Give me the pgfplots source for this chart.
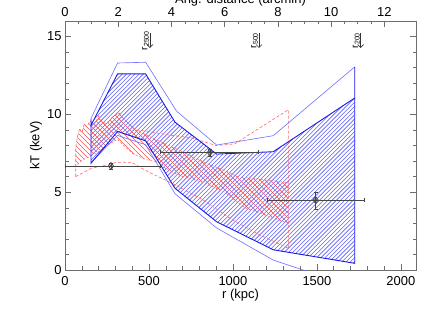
\documentclass[border=0pt]{standalone}
\usepackage{fontspec}
\setmainfont{Liberation Sans}
\usepackage{pgfplots}
\pgfplotsset{compat=1.18}
\usetikzlibrary{arrows.meta}
\definecolor{dblue}{RGB}{25,25,235}
\definecolor{lblue}{RGB}{110,110,255}
\definecolor{hblue}{RGB}{95,95,255}
\definecolor{hred}{RGB}{255,80,80}
\definecolor{dred}{RGB}{255,100,100}
\definecolor{framegray}{RGB}{110,110,110}
\definecolor{errgray}{RGB}{70,70,70}
\begin{document}
\fontsize{13}{15}\selectfont
\begin{tikzpicture}
\begin{axis}[
  scale only axis, width=351bp, height=249bp,
  xmin=0, xmax=2090, ymin=0, ymax=16,
  xtick={0,500,1000,1500,2000}, minor x tick num=4,
  ytick={0,5,10,15}, minor y tick num=4,
  xtick pos=left, ytick pos=both,
  tick align=inside,
  major tick length=6bp, minor tick length=3.5bp,
  axis line style={framegray, line width=0.6pt},
  every tick/.style={framegray, line width=0.5pt},
  /pgf/number format/assume math mode=true,
  /pgf/number format/1000 sep={},
  tick label style={font=\fontsize{13}{15}\selectfont},
  xticklabel style={yshift=-2bp},
  yticklabel style={xshift=1bp},
  xlabel={r (kpc)}, ylabel={kT (keV)},
  every axis x label/.style={at={(axis description cs:0.5,-0.1004)}, anchor=center},
  every axis y label/.style={at={(axis description cs:-0.0826,0.5)}, rotate=90, anchor=center},
  label style={font=\fontsize{13}{15}\selectfont},
]
% blue hatched region (hatch lines clipped to the region)
\begin{scope}
\clip (155,9.3) -- (313,12.6) -- (480,12.6) -- (655,9.5) -- (903,7.45) -- (1240,7.6) -- (1725,11.05)
 -- (1725,0.43) -- (1240,1.3) -- (903,3.1) -- (655,5.25) -- (480,8.3) -- (313,8.9) -- (155,6.86) -- cycle;
\pgfplotsinvokeforeach{-60,...,85}{\draw[hblue, line width=0.6pt] (rel axis cs:0,0) ++({#1*4.2bp},0bp) -- ++(250bp,250bp);}
\end{scope}
% red hatched region
\begin{scope}
\clip (64,7.9) -- (75,8.6) -- (88,9.1) -- (100,8.8) -- (115,9.4) -- (130,9.2) -- (150,9.6) -- (175,9.3) -- (200,9.9) -- (225,9.5)
 -- (250,9.4) -- (280,9.8) -- (320,10.1) -- (350,9.7) -- (390,9.3) -- (420,9.0) -- (500,8.6) -- (600,8.1) -- (700,7.6)
 -- (833,6.9) -- (950,6.4) -- (1030,6.0) -- (1150,5.85) -- (1330,5.6)
 -- (1330,3.0) -- (1200,3.5) -- (1071,4.0) -- (950,5.0) -- (833,5.6) -- (700,6.0) -- (600,6.5) -- (565,6.9) -- (480,7.1)
 -- (400,7.5) -- (350,8.0) -- (313,8.4) -- (250,8.0) -- (200,7.6) -- (150,7.3) -- (110,7.1) -- (85,6.9) -- (64,6.6) -- cycle;
\pgfplotsinvokeforeach{0,...,122}{\draw[hred, line width=0.55pt] (rel axis cs:0,0) ++({#1*5bp},0bp) -- ++(-250bp,250bp);}
\end{scope}
% red dashed boundaries
\addplot[dred, line width=0.6pt, dash pattern=on 3pt off 2pt] coordinates {
 (64,6.0) (64,7.9) (75,8.6) (88,9.1) (100,8.8) (115,9.4) (130,9.2) (150,9.6) (175,9.3) (200,9.9) (225,9.5)
 (250,9.4) (280,9.8) (320,10.1) (350,9.7) (390,9.3) (420,9.0) (500,8.9) (600,8.7) (750,8.5)
 (900,8.0) (1010,8.1) (1330,10.3) (1330,1.4)};
\addplot[dred, line width=0.6pt, dash pattern=on 3pt off 2pt] coordinates {
 (64,6.0) (150,6.5) (300,6.9) (400,6.9) (480,6.4) (650,5.5) (823,4.5) (1000,3.2) (1160,2.25) (1330,1.4)};
\addplot[dred, line width=0.5pt, dash pattern=on 2pt off 2pt] coordinates {
 (420,9.0) (500,8.6) (600,8.1) (700,7.6) (833,6.9) (950,6.4) (1030,6.0) (1150,5.85) (1330,5.6)};
\addplot[dred, line width=0.5pt, dash pattern=on 2pt off 2pt] coordinates {
 (1330,3.0) (1200,3.5) (1071,4.0) (950,5.0) (833,5.6) (700,6.0) (600,6.5) (565,6.9) (480,7.1)
 (400,7.5) (350,8.0) (313,8.4) (250,8.0) (200,7.6) (150,7.3) (110,7.1) (85,6.9) (64,6.6)};
% blue outer lines
\addplot[lblue, line width=0.6pt] coordinates {
 (155,9.75) (313,13.3) (480,13.35) (665,10.2) (903,8.03) (1240,8.63) (1725,13.05)};
\addplot[lblue, line width=0.6pt] coordinates {
 (155,6.9) (313,8.65) (480,8.05) (655,4.9) (903,2.7) (1240,0.64) (1725,-1.1)};
% blue inner lines
\addplot[dblue, line width=0.9pt] coordinates {
 (155,9.75) (155,9.3) (313,12.6) (480,12.6) (655,9.5) (903,7.45) (1240,7.6) (1725,11.05) (1725,13.05)};
\addplot[dblue, line width=0.9pt] coordinates {
 (155,9.3) (155,6.86) (313,8.9) (480,8.3) (655,5.25) (903,3.1) (1240,1.3) (1725,0.43) (1725,11.05)};
% data points
\addplot[errgray, line width=0.8pt, mark=diamond, mark size=3.5pt, only marks,
  error bars/.cd, x dir=both, x explicit, y dir=both, y explicit,
  error bar style={errgray, line width=0.8pt}, error mark options={rotate=90, mark size=2pt, errgray}]
 coordinates {
 (274,6.68) += (291,0.2) -= (274,0.2)
 (863,7.56) += (287,0.22) -= (298,0.22)
 (1492,4.5) += (290,0.53) -= (288,0.6)};
\addplot[errgray, only marks, mark=*, mark size=1.1pt] coordinates {(274,6.68) (863,7.56) (1492,4.5)};
\end{axis}
\begin{axis}[
  scale only axis, width=351bp, height=249bp,
  xmin=0, xmax=13.19, ymin=0, ymax=16,
  axis x line*=top, axis y line=none,
  xtick={0,2,...,12}, minor x tick num=3,
  tick align=inside,
  major tick length=6bp, minor tick length=3.5bp,
  axis line style={framegray, line width=0.6pt},
  every tick/.style={framegray, line width=0.5pt},
  /pgf/number format/assume math mode=true,
  tick label style={font=\fontsize{13}{15}\selectfont},
  xlabel={Ang. distance (arcmin)},
  every axis x label/.style={at={(axis description cs:0.5,1.0703)}, anchor=base},
  label style={font=\fontsize{13}{15}\selectfont},
]
\foreach \xx/\lab in {3.19/2500, 7.29/500, 11.11/200} {
  \edef\temp{\noexpand\draw[black!80, line width=0.6pt, -{Straight Barb[length=3pt,width=6pt]}] (axis cs:\xx,15.23) -- (axis cs:\xx,14.27);
  \noexpand\node[rotate=90, anchor=south, inner sep=0.8pt, font=\noexpand\fontsize{10}{11}\noexpand\selectfont, text=black] at (axis cs:\xx,14.75) {r\noexpand\textsubscript{\lab}};}
  \temp
}
\end{axis}
\pgfresetboundingbox
\path[use as bounding box] (-65bp,-42bp) rectangle (371bp,270bp);
\end{tikzpicture}
\end{document}
